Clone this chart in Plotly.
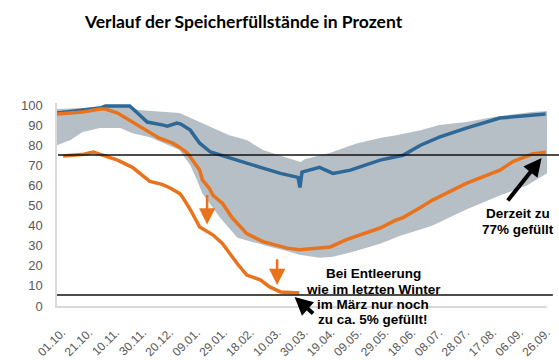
import plotly.graph_objects as go

# ---------------- data ----------------
tick_days = [0, 20, 40, 60, 80, 100, 120, 140, 160, 180, 200, 220, 240, 260, 280, 300, 320, 340, 360]
tick_labels = ["01.10.", "21.10.", "10.11.", "30.11.", "20.12.", "09.01.", "29.01.", "18.02.", "10.03.",
               "30.03.", "19.04.", "09.05.", "29.05.", "18.06.", "08.07.", "28.07.", "17.08.", "06.09.", "26.09."]

band_upper_days = [0, 20, 36, 54, 60, 70, 91, 106, 116, 128, 141, 153, 165, 178, 181, 184, 203, 223, 240, 252, 270, 284, 304, 329, 353, 364]
band_upper_vals = [98, 98.5, 99.6, 99.5, 97.5, 97, 96, 91.5, 88.5, 85, 82.6, 77.6, 75, 72.5, 71.6, 73, 76.3, 81, 83.6, 85, 87.5, 90, 91.5, 94.5, 96.5, 97]

band_lower_days = [0, 10, 19, 32, 47, 56, 69, 80, 91, 99, 104, 108, 121, 134, 145, 158, 170, 180, 195, 205, 220, 240, 255, 270, 279, 304, 329, 349, 364]
band_lower_vals = [80, 82.6, 86.6, 88.5, 88.5, 86, 84, 81, 77.6, 70, 62.7, 56, 44, 34, 32, 29.5, 27.5, 25.5, 24, 24.5, 27, 31, 35, 38, 40, 48, 55, 60, 66]

blue_days = [0, 19, 32, 36, 54, 59, 67, 79, 82, 89, 92, 99, 106, 114, 128, 141, 153, 166, 179, 180.5, 182, 195, 205, 218, 240, 257, 270, 284, 304, 329, 344, 363]
blue_vals = [96, 97.5, 98.5, 99.5, 99.5, 96.5, 91.5, 90, 89.5, 91, 90.5, 87.5, 81, 76.6, 73.6, 71, 68.6, 66, 64, 59, 66.6, 69, 66, 67.6, 72.6, 75, 80, 84, 88.5, 93.5, 94.5, 95.5]

orange_days = [0, 19, 32, 36, 45, 56, 67, 76, 86, 91, 97, 99, 106, 108, 113, 116, 123, 130, 141, 153, 158, 166, 171, 180, 190, 203, 215, 227, 240, 252, 257, 270, 279, 304, 329, 339, 353, 363]
orange_vals = [95.5, 96.5, 98, 98, 96, 91.5, 87.5, 83.5, 81, 79, 76, 74, 67.6, 62.7, 58.7, 55, 51, 44, 36, 32, 31, 29.5, 28.8, 28, 28.5, 29.4, 33, 36, 38.8, 42.8, 44, 49, 52.7, 61, 67.6, 72, 75.6, 76.5]

proj_days = [4.5, 20, 27, 35, 39, 45, 56, 69, 78, 84, 91, 93, 99, 106, 116, 123, 134, 141, 151, 158, 166, 175, 180]
proj_vals = [74.6, 75.5, 76.6, 75, 74, 72.6, 69, 62, 60.5, 58.7, 56, 54.5, 48, 39.3, 35.3, 31, 21, 15.4, 13, 9.5, 7, 6.5, 6.5]

ref_levels = [75.1, 5.5]

# ---------------- figure ----------------
BAND = "#b7bfc6"
BLUE = "#2e6896"
ORANGE = "#e8731c"
FONT = "Liberation Sans, Arial, sans-serif"

fig = go.Figure()

fig.add_trace(go.Scatter(
    x=band_upper_days + band_lower_days[::-1],
    y=band_upper_vals + band_lower_vals[::-1],
    fill="toself", fillcolor=BAND, line=dict(width=0), mode="lines",
    hoverinfo="skip", showlegend=False))

fig.add_trace(go.Scatter(x=blue_days, y=blue_vals, mode="lines",
                         line=dict(color=BLUE, width=3.5), showlegend=False))
fig.add_trace(go.Scatter(x=orange_days, y=orange_vals, mode="lines",
                         line=dict(color=ORANGE, width=3.5), showlegend=False))
fig.add_trace(go.Scatter(x=proj_days, y=proj_vals, mode="lines",
                         line=dict(color=ORANGE, width=3.5), showlegend=False))

# reference lines
fig.add_shape(type="line", xref="paper", yref="y", x0=0.002, x1=1.03,
              y0=ref_levels[0], y1=ref_levels[0], line=dict(color="#111111", width=1.4), layer="above")
fig.add_shape(type="line", xref="paper", yref="y", x0=0.0, x1=1.012,
              y0=ref_levels[1], y1=ref_levels[1], line=dict(color="#111111", width=1.4), layer="above")

annotations = []
# orange arrows
annotations.append(dict(x=111.5, y=40.5, ax=111.5, ay=56, xref="x", yref="y", axref="x", ayref="y",
                        text="", showarrow=True, arrowhead=2, arrowsize=1.3, arrowwidth=2.5,
                        arrowcolor=ORANGE, standoff=0))
annotations.append(dict(x=163.5, y=10.5, ax=163.5, ay=24, xref="x", yref="y", axref="x", ayref="y",
                        text="", showarrow=True, arrowhead=2, arrowsize=1.3, arrowwidth=2.5,
                        arrowcolor=ORANGE, standoff=0))
# black arrows
annotations.append(dict(x=176.5, y=4.5, ax=20, ay=18, xref="x", yref="y",
                        text="", showarrow=True, arrowhead=2, arrowsize=0.9, arrowwidth=4,
                        arrowcolor="#000000", standoff=0))
annotations.append(dict(x=360, y=73.6, ax=-35, ay=44, xref="x", yref="y",
                        text="", showarrow=True, arrowhead=2, arrowsize=0.9, arrowwidth=4,
                        arrowcolor="#000000", standoff=0))

# text lines
left_lines = ["Bei Entleerung", "wie im letzten Winter", "im März nur noch", "zu ca. 5% gefüllt!"]
left_y = [273, 289, 304, 319]
for t, yy in zip(left_lines, left_y):
    annotations.append(dict(text="<b>" + t + "</b>", xref="paper", yref="paper",
                            x=(373 - 57) / 490, y=(306 - yy) / 203, xanchor="center", yanchor="middle",
                            showarrow=False, font=dict(family=FONT, size=13.5, color="#000000")))
right_lines = ["Derzeit zu", "77% gefüllt"]
right_y = [213, 229]
for t, yy in zip(right_lines, right_y):
    annotations.append(dict(text="<b>" + t + "</b>", xref="paper", yref="paper",
                            x=(518 - 57) / 490, y=(306 - yy) / 203, xanchor="center", yanchor="middle",
                            showarrow=False, font=dict(family=FONT, size=13.5, color="#000000")))

fig.update_layout(
    width=559, height=360,
    margin=dict(l=57, r=12, t=103, b=54, autoexpand=False),
    paper_bgcolor="white", plot_bgcolor="white",
    title=dict(text="<b>Verlauf der Speicherfüllstände in Prozent</b>", xref="container", yref="container",
               x=85 / 559, xanchor="left", y=1 - 22 / 360, yanchor="middle", automargin=False,
               font=dict(family="Lato, sans-serif", size=17.5, color="#000000")),
    annotations=annotations,
    xaxis=dict(range=[0, 364], tickvals=tick_days, ticktext=tick_labels, tickangle=-45,
               showgrid=False, zeroline=False, showline=True, linecolor="#d9d9d9", linewidth=1.5,
               ticks="outside", ticklen=6, tickcolor="rgba(0,0,0,0)", automargin=False,
               ticklabelstandoff=7, ticklabelshift=5,
               tickfont=dict(family=FONT, size=12, color="#595959"), fixedrange=True),
    yaxis=dict(range=[0, 101], tickvals=list(range(0, 101, 10)),
               showgrid=False, zeroline=False, showline=True, linecolor="#d9d9d9", linewidth=1.5,
               ticks="outside", ticklen=10, tickcolor="rgba(0,0,0,0)", automargin=False,
               tickfont=dict(family=FONT, size=13, color="#595959"), fixedrange=True),
    showlegend=False,
)

fig.write_html("out.html", config={"displayModeBar": False},
               post_script="document.body.style.margin='0';document.body.style.padding='0';")
